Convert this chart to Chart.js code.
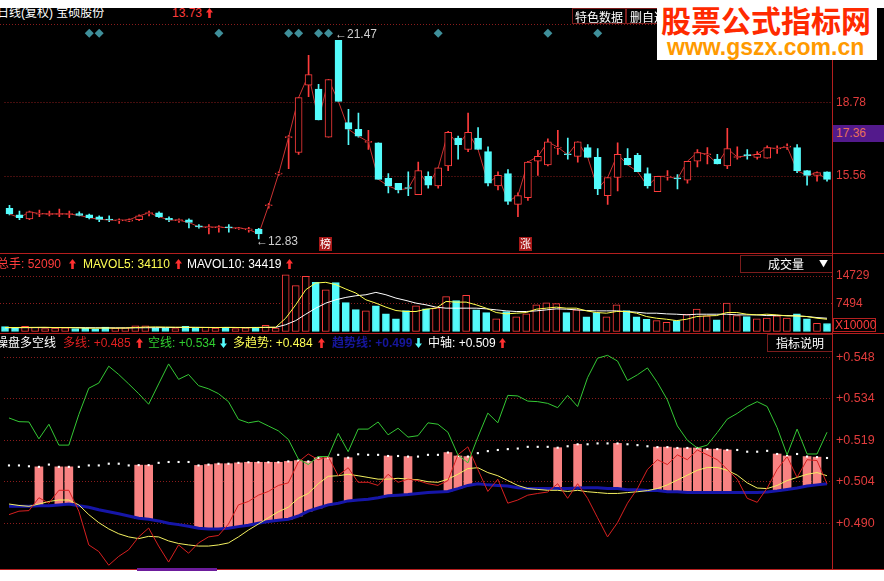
<!DOCTYPE html>
<html lang="zh-CN">
<head>
<meta charset="UTF-8">
<title>宝硕股份 日线 - 操盘多空线</title>
<script src="https://cdn.jsdelivr.net/npm/chart.js@4.4.3/dist/chart.umd.min.js"></script>
<style>
  body { margin:0; width:884px; height:581px; background:#fff; position:relative; overflow:hidden;
         font-family:"Liberation Sans", Arial, "Noto Sans CJK SC", sans-serif; }
  #screen { position:absolute; left:0; top:8px; width:884px; height:562px; background:#000; }
  canvas { position:absolute; left:0; }
  .t { position:absolute; font-size:12px; line-height:14px; white-space:nowrap; }
  .ar { position:absolute; }
  .hline { position:absolute; height:1px; background:#b41e1e; }
  .dots { position:absolute; height:1px; background:repeating-linear-gradient(to right,#8a1c1c 0 1px,transparent 1px 3px); }
  .btn { position:absolute; border:1px solid #7a1c1c; color:#fff; font-size:12px; line-height:15px; text-align:center;
         font-family:"Noto Sans CJK SC", sans-serif; box-sizing:border-box; }
</style>
</head>
<body>
<div id="screen"></div>
<canvas id="kline" width="884" height="229" style="top:24px"></canvas>
<canvas id="vol" width="884" height="78" style="top:254px"></canvas>
<canvas id="osc" width="884" height="236" style="top:334px"></canvas>

<!-- 主图标题 -->
<div class="t" style="left:-3px;top:6px;color:#fff">日线(复权) 宝硕股份</div>
<div class="t" style="left:172px;top:6px;color:#ff3c3c">13.73</div>
<svg class="ar" style="left:206px;top:8px" width="7" height="10"><path d="M3.5 0L7 4.5H4.8V10H2.2V4.5H0Z" fill="#ff3030"/></svg>
<div class="btn" style="left:572px;top:8px;width:54px;height:16px">特色数据</div>
<div class="btn" style="left:626px;top:8px;width:44px;height:16px;text-align:left;padding-left:3px">删自选</div>
<div class="dots" style="left:0;top:24px;width:832px"></div>

<div class="t" style="left:335px;top:27px;color:#cfcfcf">←21.47</div>
<div class="t" style="left:256px;top:234px;color:#cfcfcf">←12.83</div>
<div class="t" style="left:319px;top:237px;width:13px;height:14px;background:#a81818;color:#fff;font-size:11px;text-align:center">榜</div>
<div class="t" style="left:519px;top:237px;width:13px;height:14px;background:#a81818;color:#fff;font-size:11px;text-align:center">涨</div>
<div class="t" style="left:833px;top:125px;width:51px;height:17px;line-height:17px;background:#531a8c;color:#e8705a;padding-left:3px;box-sizing:border-box">17.36</div>

<!-- 成交量 -->
<div class="hline" style="left:0;top:253px;width:884px"></div>
<div class="t" style="left:-3px;top:257px;color:#ff3c3c">总手: 52090</div>
<svg class="ar" style="left:69px;top:259px" width="7" height="10"><path d="M3.5 0L7 4.5H4.8V10H2.2V4.5H0Z" fill="#ff3030"/></svg>
<div class="t" style="left:83px;top:257px;color:#ffff54">MAVOL5: 34110</div>
<svg class="ar" style="left:175px;top:259px" width="7" height="10"><path d="M3.5 0L7 4.5H4.8V10H2.2V4.5H0Z" fill="#ff3030"/></svg>
<div class="t" style="left:187px;top:257px;color:#fff">MAVOL10: 34419</div>
<svg class="ar" style="left:286px;top:259px" width="7" height="10"><path d="M3.5 0L7 4.5H4.8V10H2.2V4.5H0Z" fill="#ff3030"/></svg>
<div class="btn" style="left:740px;top:255px;width:93px;height:18px;text-align:left;padding-left:27px">成交量<span style="position:absolute;left:78px;top:0;font-size:9px">▼</span></div>
<div class="t" style="left:833px;top:318px;width:43px;height:14px;border:1px solid #b42020;color:#ff3c3c;box-sizing:border-box;line-height:12px;padding-left:1px">X10000</div>

<!-- 操盘多空线 -->
<div class="hline" style="left:0;top:333px;width:884px"></div>
<div class="t" style="left:-4px;top:336px;color:#fff">操盘多空线</div>
<div class="t" style="left:63px;top:336px;color:#e02020">多线: +0.485</div>
<svg class="ar" style="left:136px;top:338px" width="7" height="10"><path d="M3.5 0L7 4.5H4.8V10H2.2V4.5H0Z" fill="#ff3030"/></svg>
<div class="t" style="left:148px;top:336px;color:#30d030">空线: +0.534</div>
<svg class="ar" style="left:220px;top:338px" width="7" height="10"><path d="M3.5 10L7 5.5H4.8V0H2.2V5.5H0Z" fill="#54fcfc"/></svg>
<div class="t" style="left:233px;top:336px;color:#ffff54">多趋势: +0.484</div>
<svg class="ar" style="left:318px;top:338px" width="7" height="10"><path d="M3.5 0L7 4.5H4.8V10H2.2V4.5H0Z" fill="#ff3030"/></svg>
<div class="t" style="left:332px;top:336px;color:#16169c;font-weight:bold">趋势线: +0.499</div>
<svg class="ar" style="left:415px;top:338px" width="7" height="10"><path d="M3.5 10L7 5.5H4.8V0H2.2V5.5H0Z" fill="#54fcfc"/></svg>
<div class="t" style="left:428px;top:336px;color:#fff">中轴: +0.509</div>
<svg class="ar" style="left:499px;top:338px" width="7" height="10"><path d="M3.5 0L7 4.5H4.8V10H2.2V4.5H0Z" fill="#ff3030"/></svg>
<div class="btn" style="left:767px;top:334px;width:66px;height:18px">指标说明</div>

<div class="hline" style="left:0;top:569px;width:884px"></div>
<div style="position:absolute;left:137px;top:568px;width:80px;height:3px;background:#6c1c9c"></div>
<div style="position:absolute;left:832px;top:8px;width:1px;height:562px;background:#b41e1e"></div>

<!-- 水印 -->
<div style="position:absolute;left:657px;top:0;width:220px;height:60px;background:#fff"></div>
<div class="t" style="left:661px;top:2px;font:bold 30px/34px 'Noto Sans CJK SC',sans-serif;color:#ff2a00">股票公式指标网</div>
<div class="t" style="left:667px;top:35px;font:bold 23px/24px 'Liberation Sans',Arial,sans-serif;color:#ff9a00">www.gszx.com.cn</div>

<script>
// 日K线 (复权价)
const openP = [14.16,13.87,13.70,13.90,13.89,13.89,13.89,13.93,13.87,13.79,
  13.68,13.61,13.60,13.66,13.93,13.96,13.72,13.62,13.66,13.39,
  13.31,13.31,13.35,13.27,13.22,13.24,14.27,15.65,17.24,16.59,
  19.52,19.35,17.26,21.47,17.89,17.60,17.03,17.01,15.46,15.25,
  15.06,14.75,15.55,15.13,16.01,17.22,16.72,17.22,16.63,15.13,
  15.67,14.33,14.62,16.21,16.05,16.78,16.53,16.42,16.80,16.38,
  14.71,15.50,16.34,16.47,15.67,14.88,15.52,15.48,15.38,16.21,
  16.49,16.30,16.01,16.37,16.49,16.38,16.34,16.74,16.82,16.80,
  15.80,15.59,15.75];
const highP = [14.29,14.04,14.04,14.08,14.04,14.12,14.04,14.00,13.91,13.83,
  13.83,13.70,13.70,13.87,14.04,14.00,13.79,13.70,13.70,13.45,
  13.45,13.41,13.45,13.33,13.33,13.29,14.37,15.75,17.34,18.98,
  20.82,19.56,19.77,21.47,18.47,18.31,17.55,17.01,15.67,15.25,
  15.75,16.17,15.75,15.92,17.51,17.30,18.31,17.68,16.84,15.75,
  15.84,14.83,16.21,16.68,17.18,17.55,17.22,17.05,16.93,16.76,
  15.50,17.01,16.76,16.55,15.92,15.55,15.80,15.63,16.21,16.72,
  16.80,16.51,17.64,16.84,16.72,16.63,16.88,16.88,16.97,16.93,
  15.80,15.75,15.75];
const lowP = [13.87,13.66,13.66,13.79,13.83,13.79,13.75,13.83,13.70,13.58,
  13.58,13.50,13.58,13.62,13.83,13.75,13.58,13.54,13.30,13.29,
  13.04,13.12,13.12,13.24,13.12,12.83,14.16,15.59,15.88,16.51,
  19.02,18.01,17.26,18.81,16.93,17.26,16.72,15.42,14.83,14.83,
  14.71,14.75,15.04,15.04,15.80,16.30,16.63,16.72,15.13,14.96,
  14.33,13.79,14.50,15.59,16.01,16.51,16.30,16.17,16.38,14.75,
  14.33,14.92,16.05,15.75,15.04,14.88,15.38,15.00,15.25,15.96,
  16.09,16.09,15.88,16.30,16.30,16.30,16.34,16.55,16.72,15.71,
  15.17,15.34,15.34];
const closeP = [13.91,13.75,14.00,13.93,13.91,13.92,13.91,13.85,13.75,13.68,
  13.65,13.63,13.66,13.83,13.96,13.79,13.65,13.64,13.54,13.35,
  13.34,13.34,13.31,13.30,13.24,13.04,14.29,15.67,17.26,18.98,
  19.98,18.01,19.77,18.81,17.60,17.30,17.05,15.42,15.13,14.96,
  15.02,15.80,15.17,15.92,17.47,16.93,17.47,16.72,15.25,15.59,
  14.46,14.71,16.17,16.42,17.05,16.82,16.49,17.05,16.38,15.00,
  15.50,16.51,16.05,15.75,15.13,15.55,15.55,15.44,16.21,16.59,
  16.51,16.09,16.76,16.39,16.45,16.51,16.80,16.76,16.84,15.80,
  15.59,15.71,15.42];
const signalDays = [8, 9, 21, 28, 29, 31, 32, 43, 54, 59];
const signalLevel = 21.78;

// 成交量 (万股)
const volume = [1300,1000,1400,1100,800,900,1000,800,900,700,
  1200,900,1000,1500,1500,1000,900,800,1400,900,
  1200,900,1100,800,1000,1200,1660,900,15100,12200,
  14700,13100,11100,13000,7700,5800,5500,6800,4700,3350,
  5600,6800,6000,6300,9300,8250,9600,5760,5040,3350,
  5300,3900,4700,7100,7600,7400,5040,5760,3900,5040,
  3900,7100,5600,3900,3270,2900,2460,2900,4600,5950,
  4150,3080,7560,4240,3970,3350,3600,4150,3600,4700,
  3350,2200,2140];
const mavol5 = [1050,1060,1080,1100,1120,1040,1040,1000,900,880,
  920,900,920,1060,1160,1220,1180,1140,1120,1100,
  1060,1040,1100,1080,1000,1040,1130,1130,3530,7100,
  11120,12900,13090,12460,11300,10230,8440,7550,6480,5580,
  5320,5320,5940,6210,8000,7820,7820,7100,6210,5050,
  4690,4870,5050,5940,6210,6480,6210,6210,5490,5050,
  4870,5320,5320,4870,3980,3530,3260,2900,3260,3980,
  4150,4240,5050,5050,4600,4420,4600,4420,4150,4150,
  3980,3530,3260];
const mavol10 = [1000,1010,1020,1030,1040,1040,1050,1040,1020,1000,
  980,970,960,980,1000,1020,1040,1060,1080,1090,
  1080,1070,1060,1060,1050,1060,1080,1100,1800,2900,
  4600,6210,7550,8440,9070,9510,9780,10410,9780,8890,
  8260,7550,7100,6480,6210,6210,6210,6210,6030,5760,
  5490,5320,5320,5490,5760,6030,5940,5760,5580,5490,
  5490,5490,5320,5140,4870,4870,4690,4600,4420,4600,
  4600,4600,4600,4420,4420,4420,4240,4240,4240,4150,
  3980,3710,3530];

// 操盘多空线
const longLine = [0.4930,0.4942,0.4944,0.4989,0.4970,0.5015,0.5015,0.4942,0.4824,0.4801,
  0.4753,0.4784,0.4807,0.4852,0.4883,0.4820,0.4764,0.4824,0.4795,0.4831,
  0.4852,0.4857,0.4897,0.4964,0.4976,0.4998,0.5011,0.5032,0.5041,0.5114,
  0.5142,0.5122,0.5133,0.5066,0.5094,0.5043,0.5043,0.5032,0.5071,0.5043,
  0.5054,0.5049,0.5038,0.5032,0.5049,0.5139,0.5167,0.5088,0.5011,0.5054,
  0.4970,0.4981,0.4998,0.5004,0.5009,0.5038,0.4987,0.5038,0.4987,0.4919,
  0.4852,0.4902,0.4970,0.5021,0.5088,0.5122,0.5105,0.5139,0.5122,0.5156,
  0.5139,0.5122,0.5088,0.5054,0.4987,0.4973,0.5023,0.5088,0.5133,0.5060,
  0.5122,0.5119,0.5038];
const shortLine = [0.5268,0.5255,0.5254,0.5195,0.5246,0.5173,0.5173,0.5280,0.5372,0.5390,
  0.5449,0.5420,0.5387,0.5353,0.5316,0.5387,0.5457,0.5403,0.5420,0.5381,
  0.5370,0.5353,0.5325,0.5263,0.5251,0.5257,0.5240,0.5223,0.5193,0.5125,
  0.5105,0.5133,0.5133,0.5214,0.5150,0.5229,0.5229,0.5254,0.5209,0.5232,
  0.5201,0.5206,0.5251,0.5246,0.5218,0.5139,0.5111,0.5201,0.5285,0.5251,
  0.5347,0.5345,0.5327,0.5325,0.5319,0.5304,0.5347,0.5308,0.5409,0.5477,
  0.5487,0.5467,0.5399,0.5419,0.5443,0.5392,0.5331,0.5240,0.5190,0.5163,
  0.5173,0.5217,0.5264,0.5284,0.5308,0.5325,0.5308,0.5234,0.5139,0.5229,
  0.5142,0.5142,0.5218];
const longTrend = [0.4967,0.4962,0.4959,0.4967,0.4976,0.4981,0.4981,0.4964,0.4930,0.4902,
  0.4880,0.4863,0.4852,0.4846,0.4854,0.4852,0.4838,0.4829,0.4824,0.4820,
  0.4820,0.4824,0.4831,0.4852,0.4876,0.4897,0.4919,0.4940,0.4956,0.4987,
  0.5004,0.5038,0.5064,0.5066,0.5071,0.5066,0.5060,0.5054,0.5054,0.5057,
  0.5054,0.5052,0.5045,0.5043,0.5054,0.5071,0.5091,0.5094,0.5077,0.5066,
  0.5049,0.5032,0.5021,0.5018,0.5015,0.5015,0.5011,0.5015,0.5010,0.5007,
  0.5004,0.5004,0.5007,0.5010,0.5014,0.5021,0.5034,0.5051,0.5068,0.5085,
  0.5095,0.5095,0.5085,0.5068,0.5041,0.5023,0.5021,0.5032,0.5049,0.5060,
  0.5071,0.5077,0.5066];
const trendLine = [0.4959,0.4959,0.4959,0.4961,0.4961,0.4964,0.4967,0.4961,0.4956,0.4947,
  0.4940,0.4933,0.4925,0.4917,0.4914,0.4908,0.4900,0.4895,0.4889,0.4882,
  0.4880,0.4880,0.4882,0.4888,0.4893,0.4900,0.4906,0.4910,0.4914,0.4925,
  0.4942,0.4953,0.4964,0.4970,0.4978,0.4981,0.4984,0.4989,0.4996,0.4998,
  0.5000,0.5004,0.5007,0.5009,0.5011,0.5021,0.5032,0.5038,0.5034,0.5032,
  0.5030,0.5024,0.5021,0.5021,0.5021,0.5021,0.5021,0.5023,0.5024,0.5024,
  0.5021,0.5021,0.5017,0.5017,0.5014,0.5014,0.5010,0.5010,0.5007,0.5007,
  0.5007,0.5007,0.5007,0.5007,0.5007,0.5007,0.5009,0.5013,0.5018,0.5023,
  0.5030,0.5034,0.5038];
const midAxis = [0.5102,0.5102,0.5099,0.5097,0.5105,0.5097,0.5097,0.5097,0.5102,0.5102,
  0.5108,0.5108,0.5102,0.5103,0.5103,0.5111,0.5114,0.5114,0.5114,0.5102,
  0.5105,0.5108,0.5108,0.5111,0.5113,0.5113,0.5113,0.5113,0.5116,0.5119,
  0.5116,0.5129,0.5129,0.5139,0.5129,0.5141,0.5139,0.5139,0.5135,0.5135,
  0.5133,0.5133,0.5139,0.5139,0.5147,0.5135,0.5133,0.5145,0.5152,0.5156,
  0.5159,0.5161,0.5167,0.5167,0.5167,0.5164,0.5169,0.5176,0.5176,0.5179,
  0.5179,0.5179,0.5176,0.5173,0.5169,0.5166,0.5166,0.5163,0.5163,0.5163,
  0.5159,0.5159,0.5156,0.5156,0.5150,0.5150,0.5153,0.5142,0.5135,0.5142,
  0.5133,0.5131,0.5128];
const pinkDays = [3,5,6,13,14,19,20,21,22,23,24,25,26,27,28,29,30,31,32,34,38,40,
  44,45,46,55,57,61,65,66,67,68,69,70,71,72,77,78,80,81];

// 右侧刻度
const priceTicks = [15.56, 18.78];
const priceTickText = ['15.56', '18.78'];
const volTicks = [7494, 14729];
const volTickText = ['7494', '14729'];
const oscTicks = [0.490, 0.5045, 0.519, 0.5335, 0.548];
const oscTickText = ['+0.490', '+0.504', '+0.519', '+0.534', '+0.548'];

const days = closeP.map((_, i) => i + 1);
const RED = '#ff3c3c', CYAN = '#54fcfc';
const isUp = closeP.map((c, i) => c >= openP[i]);
const edgeColors = isUp.map(u => u ? RED : CYAN);
const fillColors = isUp.map(u => u ? '#000' : CYAN);

function panelOptions(yMin, yMax, tickVals, tickText, fontSize) {
    return {
        responsive: false,
        animation: false,
        events: [],
        layout: { padding: 0 },
        plugins: { legend: { display: false }, tooltip: { enabled: false } },
        scales: {
            x: { display: false, offset: true },
            y: {
                position: 'right',
                min: yMin,
                max: yMax,
                afterBuildTicks: s => { s.ticks = tickVals.map(v => ({ value: v })); },
                afterFit: s => { s.width = 52; s.paddingTop = 0; s.paddingBottom = 0; },
                ticks: {
                    color: '#e23c3c',
                    font: { family: 'Liberation Sans, Arial', size: fontSize },
                    padding: 4,
                    callback: (v, i) => tickText[i]
                },
                grid: { color: '#8a1c1c', drawTicks: false, lineWidth: 1 },
                border: { display: false, dash: [1, 2] }
            }
        }
    };
}

// K线
new Chart(document.getElementById('kline'), {
    type: 'bar',
    data: {
        labels: days,
        datasets: [
            {
                label: '影线',
                data: days.map((_, i) => [lowP[i], highP[i]]),
                backgroundColor: edgeColors,
                barThickness: 1,
                grouped: false,
                order: 4
            },
            {
                type: 'line',
                label: '收盘',
                data: closeP,
                borderColor: '#c83232',
                borderWidth: 1,
                pointRadius: 0,
                order: 3
            },
            {
                label: '实体',
                data: days.map((_, i) => [openP[i], closeP[i]]),
                backgroundColor: fillColors,
                borderColor: edgeColors,
                borderWidth: 1,
                borderSkipped: false,
                barThickness: 7,
                minBarLength: 1,
                grouped: false,
                order: 2
            },
            {
                type: 'line',
                label: '信号',
                data: days.map((_, i) => signalDays.includes(i) ? signalLevel : null),
                showLine: false,
                pointStyle: 'rectRot',
                pointRadius: 4.5,
                pointBackgroundColor: '#3f8f9a',
                pointBorderWidth: 0,
                order: 1
            }
        ]
    },
    options: panelOptions(12.408, 21.99, priceTicks, priceTickText, 12)
});

// 成交量
new Chart(document.getElementById('vol'), {
    type: 'bar',
    data: {
        labels: days,
        datasets: [
            {
                type: 'line', label: 'MAVOL5', data: mavol5,
                borderColor: '#ffff50', borderWidth: 1, pointRadius: 0, order: 1
            },
            {
                type: 'line', label: 'MAVOL10', data: mavol10,
                borderColor: '#ffffff', borderWidth: 1, pointRadius: 0, order: 2
            },
            {
                label: '总手',
                data: volume,
                backgroundColor: fillColors,
                borderColor: edgeColors,
                borderWidth: 1,
                borderSkipped: false,
                barThickness: 7,
                order: 3
            }
        ]
    },
    options: panelOptions(-134, 20626, volTicks, volTickText, 12)
});

// 操盘多空线
new Chart(document.getElementById('osc'), {
    type: 'bar',
    data: {
        labels: days,
        datasets: [
            {
                label: '柱',
                data: days.map((_, i) => pinkDays.includes(i) ? [trendLine[i], midAxis[i]] : null),
                backgroundColor: '#f88282',
                borderWidth: 0,
                barThickness: 8,
                grouped: false,
                order: 7
            },
            {
                type: 'line', label: '中轴', data: midAxis, showLine: false,
                pointStyle: 'rect', pointRadius: 1.5, pointBackgroundColor: '#ffffff',
                pointBorderWidth: 0, order: 6
            },
            {
                type: 'line', label: '趋势线', data: trendLine,
                borderColor: '#1616a8', borderWidth: 3, pointRadius: 0, order: 5
            },
            {
                type: 'line', label: '多趋势', data: longTrend,
                borderColor: '#f4f060', borderWidth: 1, pointRadius: 0, order: 4
            },
            {
                type: 'line', label: '多线', data: longLine,
                borderColor: '#d62020', borderWidth: 1, pointRadius: 0, order: 3
            },
            {
                type: 'line', label: '空线', data: shortLine,
                borderColor: '#34c834', borderWidth: 1, pointRadius: 0, order: 2
            }
        ]
    },
    options: panelOptions(0.47503, 0.55476, oscTicks, oscTickText, 12.5)
});
</script>
</body>
</html>
